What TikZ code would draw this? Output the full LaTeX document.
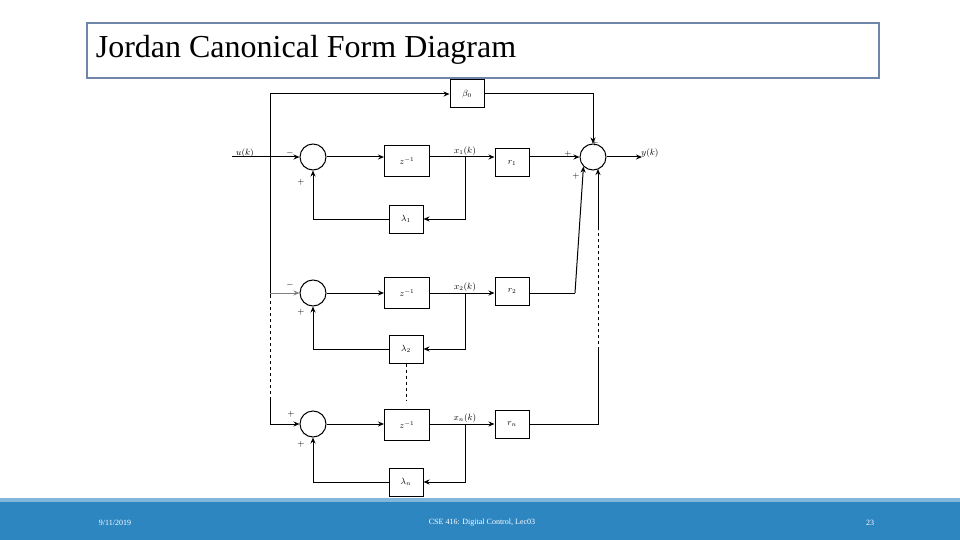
\documentclass[tikz,border=0pt]{standalone}
\usepackage{fontspec}
\setmainfont{Liberation Serif}
\usetikzlibrary{arrows.meta}
\definecolor{bar}{HTML}{2E86C1}
\definecolor{tbox}{HTML}{6F86A8}
\begin{document}
\begin{tikzpicture}[x=1pt,y=-1pt,line width=1pt,
 blk/.style={draw,line width=1pt,minimum width=45pt,minimum height=31pt,inner sep=0pt,font=\small},
 sblk/.style={draw,line width=1pt,minimum width=34pt,minimum height=28pt,inner sep=0pt,font=\small},
 sumc/.style={draw,line width=1pt,circle,minimum size=26pt,inner sep=0pt},
 lab/.style={font=\small,inner sep=1pt},
 ar/.style={-{Stealth[length=6pt,width=5pt]}},
 ln/.style={}]
\path[use as bounding box] (0,0) rectangle (960,540);
\fill[bar] (0,498) rectangle (960,540);
\fill[bar!60!white] (0,498) rectangle (960,502);
\node[draw=tbox,line width=2pt,minimum width=792pt,minimum height=55pt,anchor=north west,inner sep=0pt] (tb) at (86,22) {};
\node[anchor=west,font=\fontsize{32}{34}\selectfont] (title) at (92,50) {Jordan Canonical Form Diagram};
\node[white,font=\footnotesize] (d) at (115,523) {9/11/2019};
\node[white,font=\footnotesize] (c) at (482,523) {CSE 416: Digital Control, Lec03};
\node[white,font=\footnotesize] (p) at (870,523) {23};
% blocks
\node[sblk] (b0) at (467,94) {$\beta_0$};
\node[sumc] (s1) at (313,157) {};
\node[blk] (z1) at (407,161) {$z^{-1}$};
\node[sblk] (r1) at (512,163) {$r_1$};
\node[sumc] (so) at (593,157) {};
\node[sblk] (l1) at (406,219) {$\lambda_1$};
\node[sumc] (s2) at (313,293) {};
\node[blk] (z2) at (407,293) {$z^{-1}$};
\node[sblk] (r2) at (512,291) {$r_2$};
\node[sblk] (l2) at (406,349) {$\lambda_2$};
\node[sumc] (sn) at (313,424) {};
\node[blk] (zn) at (407,425) {$z^{-1}$};
\node[sblk] (rn) at (512,424) {$r_n$};
\node[sblk] (ln) at (406,482) {$\lambda_n$};
\coordinate (uin) at (232,157);
\coordinate (lt) at (270,94);
\coordinate (l1p) at (270,295);
\coordinate (l2p) at (270,400);
\coordinate (yout) at (642,157);
\node[lab] (u) at (245,153) {$u(k)$};
\node[lab] (y) at (650,153) {$y(k)$};
% row 1
\draw[ar] (uin) -- (s1);
\draw[ln] (lt) |- (270,157);
\draw[ar] (lt) -- (b0);
\draw[ar] (b0.east) -| (so.north);
\draw[ar] (s1) -- (z1.west|-s1);
\draw[ln] (z1.east|-s1) -- (465,157) coordinate (j1);
\draw[ar] (j1) -- (r1.west|-s1);
\node[lab,above] (x1) at (j1) {$x_1(k)$};
\draw[ar] (j1) |- (l1);
\draw[ar] (l1) -| (s1.south);
\draw[ar] (r1.east|-s1) -- (so);
\draw[ar] (so) -- (yout);
% row 2
\draw[ln] (270,157) -- (l1p);
\draw[ln,dashed] (l1p) -- (l2p);
\draw[ar,gray] (270,293) -- (s2);
\draw[ar] (s2) -- (z2);
\draw[ln] (z2) -- (465,293) coordinate (j2);
\draw[ar] (j2) -- (r2.west|-s2);
\node[lab,above] (x2) at (j2) {$x_2(k)$};
\draw[ar] (j2) |- (l2);
\draw[ar] (l2) -| (s2.south);
\draw[ln] (r2.east|-s2) -- (575,293) coordinate (k2);
\draw[ar] (k2) -- (so.south west);
% row n
\draw[ln] (l2p) |- (270,424);
\draw[ar] (270,424) -- (sn);
\draw[ar] (sn) -- (zn.west|-sn);
\draw[ln] (zn.east|-sn) -- (465,424) coordinate (jn);
\draw[ar] (jn) -- (rn.west|-sn);
\node[lab,above] (xn) at (jn) {$x_n(k)$};
\draw[ar] (jn) |- (ln);
\draw[ar] (ln) -| (sn.south);
\draw[ln] (rn.east|-sn) -- (598,424) -- (598,350) coordinate (kn);
\draw[ln,dashed] (kn) -- (598,230) coordinate (kn2);
\draw[ar] (kn2) -- (598,169);
\draw[ln,dashed] (l2.south) -- (406,400);
% signs
\node[lab] (m1) at (290,153) {$-$};
\node[lab] (p1) at (301,182) {$+$};
\node[lab] (m2) at (290,285) {$-$};
\node[lab] (p2) at (301,312) {$+$};
\node[lab] (m3) at (291,414) {$+$};
\node[lab] (p3) at (301,444) {$+$};
\node[lab] (o1) at (568,154) {$+$};
\node[lab] (o2) at (576,176) {$+$};
\node[lab] (o3) at (595,143) {$+$};
\end{tikzpicture}
\end{document}
